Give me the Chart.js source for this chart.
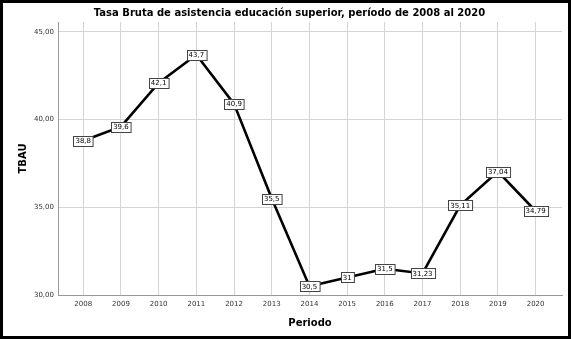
<!DOCTYPE html>
<html>
<head>
<meta charset="utf-8">
<script src="https://cdn.jsdelivr.net/npm/chart.js@4/dist/chart.umd.min.js"></script>
<style>
    html, body { margin: 0; padding: 0; background: #fff; }
    #frame {
        width: 571px;
        height: 339px;
        box-sizing: border-box;
        border: 3px solid #000;
        position: relative;
    }
    #chart { display: block; }
</style>
</head>
<body>
<div id="frame"><canvas id="chart" width="565" height="333"></canvas></div>
<script>
    'use strict';

    const years = [2008, 2009, 2010, 2011, 2012, 2013, 2014, 2015, 2016, 2017, 2018, 2019, 2020];
    const tbau = [38.8, 39.6, 42.1, 43.7, 40.9, 35.5, 30.5, 31, 31.5, 31.23, 35.11, 37.04, 34.79];
    const yTicks = [30, 35, 40, 45];

    const fontFamily = '"DejaVu Sans", Verdana, sans-serif';

    function comma(v) {
        return String(v).replace('.', ',');
    }

    // boxed value labels, centred on each point
    const boxLabels = {
        id: 'boxLabels',
        afterDatasetsDraw(chart) {
            const ctx = chart.ctx;
            const meta = chart.getDatasetMeta(0);
            ctx.save();
            ctx.font = '7px ' + fontFamily;
            ctx.textAlign = 'center';
            ctx.textBaseline = 'middle';
            meta.data.forEach((pt, i) => {
                const text = comma(tbau[i]);
                const w = ctx.measureText(text).width + 4;
                const h = 10;
                const x = Math.round(pt.x - w / 2) + 0.5;
                const y = Math.round(pt.y - h / 2) + 0.5;
                ctx.fillStyle = '#fff';
                ctx.fillRect(x, y, w, h);
                ctx.strokeStyle = '#444';
                ctx.lineWidth = 1;
                ctx.strokeRect(x, y, w, h);
                ctx.fillStyle = '#000';
                ctx.fillText(text, pt.x, pt.y + 0.5);
            });
            ctx.restore();
        }
    };

    new Chart(document.getElementById('chart'), {
        type: 'line',
        data: {
            datasets: [{
                data: years.map((yr, i) => ({ x: yr, y: tbau[i] })),
                borderColor: '#000',
                borderWidth: 2.6,
                pointRadius: 0,
                tension: 0,
                fill: false
            }]
        },
        options: {
            responsive: false,
            animation: false,
            layout: { padding: { left: 14, right: 6, top: 0, bottom: 0 } },
            plugins: {
                legend: { display: false },
                tooltip: { enabled: false },
                title: {
                    display: true,
                    text: 'Tasa Bruta de asistencia educación superior, período de 2008 al 2020',
                    color: '#000',
                    font: { family: fontFamily, size: 10, weight: 'bold' },
                    padding: { top: 4, bottom: 3 }
                }
            },
            scales: {
                x: {
                    type: 'linear',
                    min: 2007.33,
                    max: 2020.7,
                    grid: { color: '#d4d4d4', drawTicks: false },
                    border: { color: '#999', width: 1 },
                    ticks: {
                        stepSize: 1,
                        includeBounds: false,
                        padding: 5,
                        color: '#333',
                        font: { family: fontFamily, size: 7 },
                        callback: v => String(v)
                    },
                    title: {
                        display: true,
                        text: 'Periodo',
                        color: '#000',
                        font: { family: fontFamily, size: 10, weight: 'bold' },
                        padding: { top: 0, bottom: 7 }
                    },
                    afterFit(scale) { scale.height = 41; }
                },
                y: {
                    min: 30,
                    max: 45.57,
                    grid: { color: '#d4d4d4', drawTicks: false },
                    border: { color: '#999', width: 1 },
                    afterBuildTicks(scale) {
                        scale.ticks = yTicks.map(v => ({ value: v }));
                    },
                    ticks: {
                        padding: 4,
                        color: '#333',
                        font: { family: fontFamily, size: 7 },
                        callback: v => v.toFixed(2).replace('.', ',')
                    },
                    title: {
                        display: true,
                        text: 'TBAU',
                        color: '#000',
                        font: { family: fontFamily, size: 10, weight: 'bold' },
                        padding: { top: 0, bottom: 0 }
                    },
                    afterFit(scale) { scale.width = 41; }
                }
            }
        },
        plugins: [boxLabels]
    });
</script>
</body>
</html>
